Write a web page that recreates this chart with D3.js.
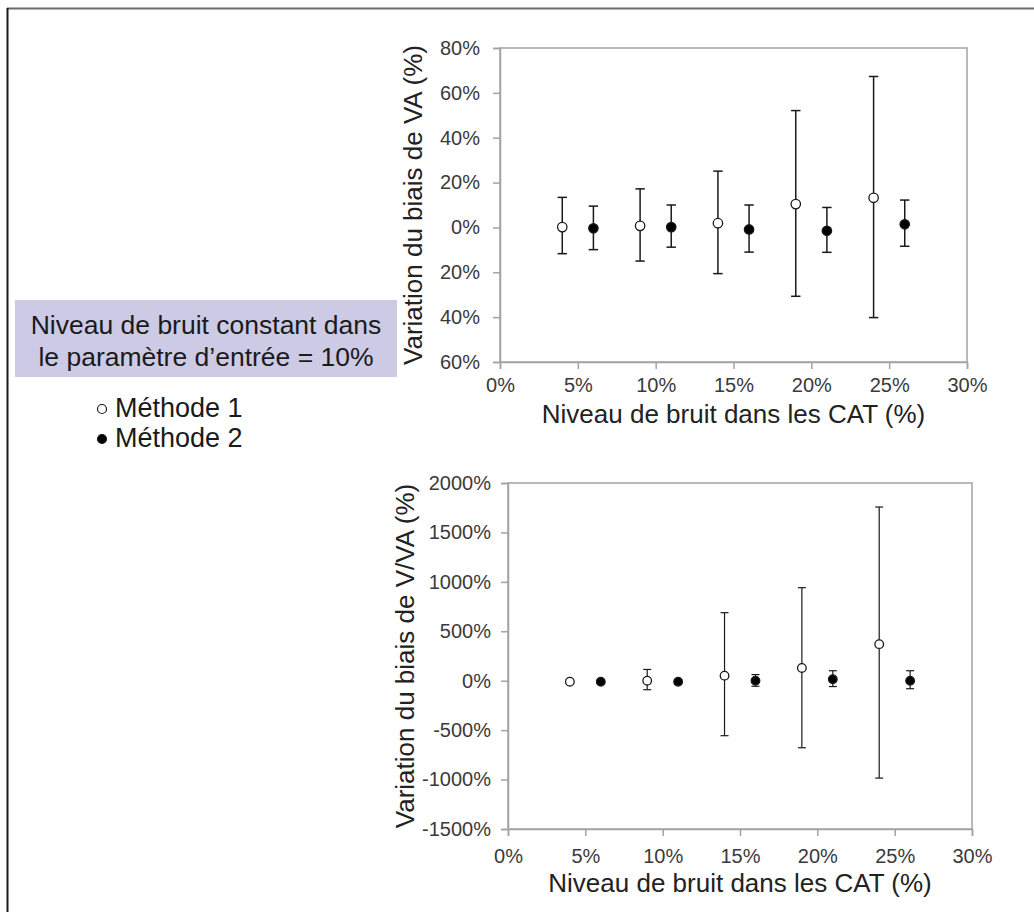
<!DOCTYPE html>
<html>
<head>
<meta charset="utf-8">
<script src="https://cdn.jsdelivr.net/npm/d3@7"></script>
<style>
  html, body { margin: 0; padding: 0; background: #fff; }
  svg { display: block; font-family: "Liberation Sans", Arial, sans-serif; }
</style>
</head>
<body>
<svg id="chart" width="1034" height="912"></svg>
<script>
// ---------- data ----------
const xMethode1 = [4, 9, 14, 19, 24];
const xMethode2 = [6, 11, 16, 21, 26];

// Top chart: Variation du biais de VA (%)
const vaM1 = [0.15, 0.7, 1.9, 10.4, 13.2];
const vaM1Hi = [13.4, 17.2, 25.1, 52.1, 67.3];
const vaM1Lo = [-11.7, -15.0, -20.6, -30.7, -40.2];
const vaM2 = [-0.4, 0.15, -0.9, -1.5, 1.4];
const vaM2Hi = [9.5, 10.0, 10.0, 8.9, 12.2];
const vaM2Lo = [-9.9, -8.8, -11.0, -11.1, -8.4];

// Bottom chart: Variation du biais de V/VA (%)
const vvaM1 = [-10, 0, 51, 129, 370];
const vvaM1Hi = [10, 114, 688, 941, 1757];
const vvaM1Lo = [-30, -91, -556, -678, -985];
const vvaM2 = [-10, -10, 0, 15, 0];
const vvaM2Hi = [10, 10, 62, 101, 101];
const vvaM2Lo = [-30, -30, -56, -59, -81];

const xTickValues = [0, 5, 10, 15, 20, 25, 30];
const xTickLabels = ["0%", "5%", "10%", "15%", "20%", "25%", "30%"];
const topYTickValues = [80, 60, 40, 20, 0, -20, -40, -60];
const topYTickLabels = ["80%", "60%", "40%", "20%", "0%", "20%", "40%", "60%"];
const botYTickValues = [2000, 1500, 1000, 500, 0, -500, -1000, -1500];
const botYTickLabels = ["2000%", "1500%", "1000%", "500%", "0%", "-500%", "-1000%", "-1500%"];

const xTitle = "Niveau de bruit dans les CAT (%)";
const topYTitle = "Variation du biais de VA (%)";
const botYTitle = "Variation du biais de V/VA (%)";
const boxLines = ["Niveau de bruit constant dans", "le paramètre d\u2019entrée = 10%"];
const legendNames = ["Méthode 1", "Méthode 2"];

// ---------- drawing ----------
const svg = d3.select("#chart");

// page frame (top + left)
svg.append("line").attr("x1", 7).attr("x2", 1034).attr("y1", 8.5).attr("y2", 8.5)
  .attr("stroke", "#6b6b6b").attr("stroke-width", 2);
svg.append("line").attr("x1", 7.5).attr("x2", 7.5).attr("y1", 8).attr("y2", 912)
  .attr("stroke", "#1a1a1a").attr("stroke-width", 2);

function drawPanel(cfg) {
  const x = d3.scaleLinear().domain([0, 30]).range([cfg.left, cfg.right]);
  const y = d3.scaleLinear().domain(cfg.yDomain).range([cfg.bottom, cfg.top]);
  const g = svg.append("g");

  // frame
  g.append("rect").attr("x", cfg.left).attr("y", cfg.top)
    .attr("width", cfg.right - cfg.left).attr("height", cfg.bottom - cfg.top)
    .attr("fill", "none").attr("stroke", "#a3a3a3").attr("stroke-width", 1.5);

  const xAxis = d3.axisBottom(x).tickValues(xTickValues)
    .tickFormat((d, i) => xTickLabels[i]).tickSizeOuter(0).tickSize(7).tickPadding(cfg.xPad);
  const gx = g.append("g").attr("transform", `translate(0,${cfg.bottom})`).call(xAxis);
  const yAxis = d3.axisLeft(y).tickValues(cfg.yTicks)
    .tickFormat((d, i) => cfg.yLabels[i]).tickSizeOuter(0).tickSize(7).tickPadding(cfg.yPad);
  const gy = g.append("g").attr("transform", `translate(${cfg.left},0)`).call(yAxis);
  [gx, gy].forEach(a => {
    a.select(".domain").attr("stroke", "#a3a3a3").attr("stroke-width", 1.5);
    a.selectAll(".tick line").attr("stroke", "#a3a3a3").attr("stroke-width", 1.5);
    a.selectAll(".tick text").attr("fill", "#3a3a3a")
      .style("font-size", "20px").style("font-family", "'Liberation Sans', Arial, sans-serif");
  });

  // titles
  g.append("text").attr("x", (cfg.left + cfg.right) / 2).attr("y", cfg.xTitleY)
    .attr("text-anchor", "middle").attr("fill", "#222").style("font-size", "26px")
    .text(xTitle);
  g.append("text")
    .attr("transform", `translate(${cfg.yTitleX},${(cfg.top + cfg.bottom) / 2}) rotate(-90)`)
    .attr("text-anchor", "middle").attr("fill", "#222").style("font-size", "26px")
    .text(cfg.yTitle);

  // series
  const series = [
    { xs: xMethode1, v: cfg.m1, hi: cfg.m1Hi, lo: cfg.m1Lo, fill: "#fff" },
    { xs: xMethode2, v: cfg.m2, hi: cfg.m2Hi, lo: cfg.m2Lo, fill: "#000" }
  ];
  series.forEach(s => {
    const pts = s.xs.map((xv, i) => ({ x: xv, v: s.v[i], hi: s.hi[i], lo: s.lo[i] }));
    const eb = g.append("g").attr("stroke", "#1a1a1a").attr("stroke-width", cfg.ebWidth);
    eb.selectAll("line.v").data(pts).join("line").attr("class", "v")
      .attr("x1", d => x(d.x)).attr("x2", d => x(d.x))
      .attr("y1", d => y(d.hi)).attr("y2", d => y(d.lo));
    eb.selectAll("line.hi").data(pts).join("line").attr("class", "hi")
      .attr("x1", d => x(d.x) - cfg.cap).attr("x2", d => x(d.x) + cfg.cap)
      .attr("y1", d => y(d.hi)).attr("y2", d => y(d.hi));
    eb.selectAll("line.lo").data(pts).join("line").attr("class", "lo")
      .attr("x1", d => x(d.x) - cfg.cap).attr("x2", d => x(d.x) + cfg.cap)
      .attr("y1", d => y(d.lo)).attr("y2", d => y(d.lo));
    g.append("g").selectAll("circle").data(pts).join("circle")
      .attr("cx", d => x(d.x)).attr("cy", d => y(d.v)).attr("r", cfg.r)
      .attr("fill", s.fill).attr("stroke", "#1a1a1a").attr("stroke-width", 1.3);
  });
}

drawPanel({
  left: 500, right: 967, top: 48, bottom: 362,
  yDomain: [-60, 80], yTicks: topYTickValues, yLabels: topYTickLabels,
  xTitleY: 423, yTitleX: 422, yTitle: topYTitle, xPad: 9, yPad: 13,
  m1: vaM1, m1Hi: vaM1Hi, m1Lo: vaM1Lo, m2: vaM2, m2Hi: vaM2Hi, m2Lo: vaM2Lo,
  r: 4.7, cap: 4.7, ebWidth: 1.5
});

drawPanel({
  left: 508, right: 972, top: 483, bottom: 829,
  yDomain: [-1500, 2000], yTicks: botYTickValues, yLabels: botYTickLabels,
  xTitleY: 892, yTitleX: 414, yTitle: botYTitle, xPad: 13, yPad: 10,
  m1: vvaM1, m1Hi: vvaM1Hi, m1Lo: vvaM1Lo, m2: vvaM2, m2Hi: vvaM2Hi, m2Lo: vvaM2Lo,
  r: 4.3, cap: 4, ebWidth: 1.2
});

// info box
svg.append("rect").attr("x", 15).attr("y", 300).attr("width", 382).attr("height", 77)
  .attr("fill", "#cdcae6");
svg.selectAll("text.box").data(boxLines).join("text").attr("class", "box")
  .attr("x", 206).attr("y", (d, i) => 334 + i * 32)
  .attr("text-anchor", "middle").attr("fill", "#1a1a1a").style("font-size", "26.5px")
  .text(d => d);

// legend
const legY = [417, 447];
legendNames.forEach((name, i) => {
  svg.append("circle").attr("cx", 102).attr("cy", legY[i] - 8).attr("r", 4.5)
    .attr("fill", i === 0 ? "#fff" : "#000").attr("stroke", "#1a1a1a").attr("stroke-width", 1.2);
  svg.append("text").attr("x", 115).attr("y", legY[i]).attr("fill", "#1a1a1a")
    .style("font-size", "27px").text(name);
});
</script>
</body>
</html>
